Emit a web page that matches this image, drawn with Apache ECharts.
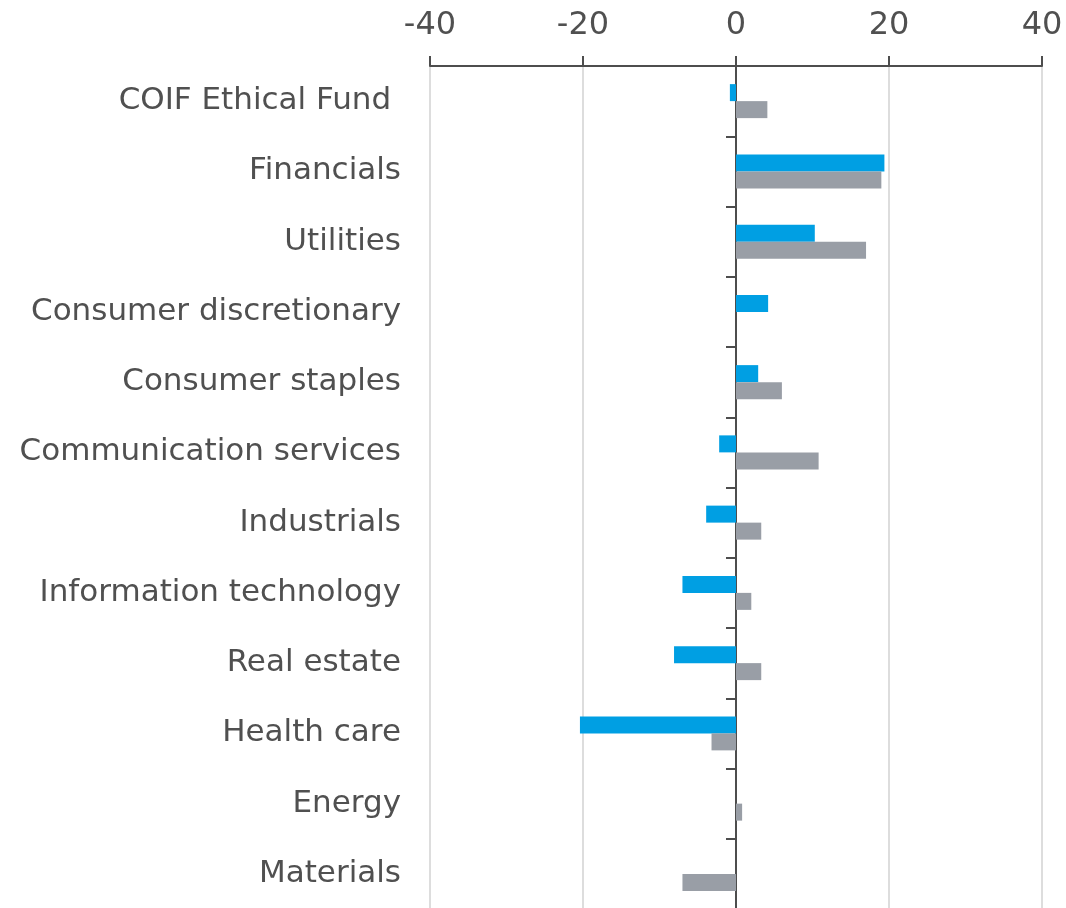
<!DOCTYPE html>
<html>
<head>
<meta charset="utf-8">
<script src="https://cdn.jsdelivr.net/npm/echarts@6/dist/echarts.min.js"></script>
<style>
  html, body { margin: 0; padding: 0; background: #fff; }
  #chart { width: 1066px; height: 908px; }
</style>
</head>
<body>
<div id="chart"></div>
<script>
// 行业分类
const categories = [
    'COIF Ethical Fund ', 'Financials', 'Utilities', 'Consumer discretionary',
    'Consumer staples', 'Communication services', 'Industrials',
    'Information technology', 'Real estate', 'Health care', 'Energy', 'Materials'
];
// 蓝色系列
const blueValues = [-0.8, 19.4, 10.3, 4.2, 2.9, -2.2, -3.9, -7.0, -8.1, -20.4, 0, 0];
// 灰色系列
const greyValues = [4.1, 19.0, 17.0, 0, 6.0, 10.8, 3.3, 2.0, 3.3, -3.2, 0.8, -7.0];
// x轴刻度
const xTicks = [-40, -20, 0, 20, 40];

const textColor = '#505050';
const font = '"DejaVu Sans", sans-serif';

let myChart = echarts.init(document.getElementById('chart'));
let option = {
    backgroundColor: '#fff',
    animation: false,
    grid: {
        left: 430,
        right: 24,
        top: 66,
        height: 843,
        containLabel: false,
        outerBoundsMode: 'none'
    },
    xAxis: {
        type: 'value',
        position: 'top',
        min: xTicks[0],
        max: xTicks[xTicks.length - 1],
        interval: 20,
        axisLine: { show: true, onZero: false, lineStyle: { color: '#4d4d4d', width: 2 } },
        axisTick: { show: true, length: 10, lineStyle: { color: '#4d4d4d', width: 2 } },
        axisLabel: { color: textColor, fontSize: 32, fontFamily: font, margin: 24 },
        splitLine: { show: true, lineStyle: { color: '#dddddd', width: 2 } }
    },
    yAxis: {
        type: 'category',
        inverse: true,
        data: categories,
        axisLine: { show: true, onZero: true, lineStyle: { color: '#4d4d4d', width: 2 } },
        axisTick: { show: true, length: 10, lineStyle: { color: '#4d4d4d', width: 2 } },
        axisLabel: { color: textColor, fontSize: 31, fontFamily: font, margin: 29, padding: [5, 0, 0, 0] },
        splitLine: { show: false }
    },
    series: [
        {
            name: 'blue',
            type: 'bar',
            data: blueValues,
            barWidth: 17,
            barGap: '0%',
            itemStyle: { color: '#009fe3' }
        },
        {
            name: 'grey',
            type: 'bar',
            data: greyValues,
            barWidth: 17,
            barGap: '0%',
            itemStyle: { color: '#999ea6' }
        }
    ]
};
myChart.setOption(option);
</script>
</body>
</html>
